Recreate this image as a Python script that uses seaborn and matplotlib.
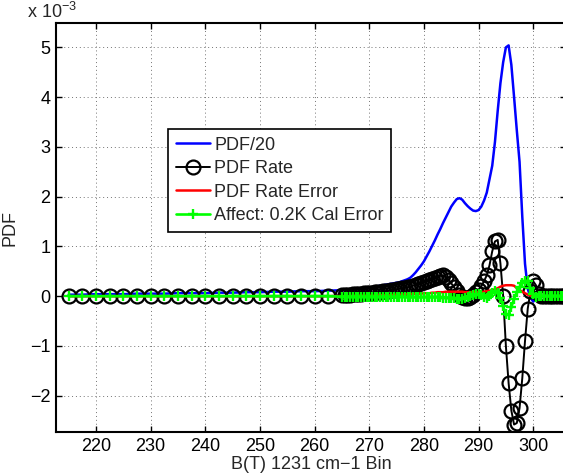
import numpy as np
import pandas as pd
import matplotlib
matplotlib.use("Agg")
import matplotlib.pyplot as plt
import seaborn as sns

# ---------------- data (values in units of 1e-3) ----------------
x_coarse = list(np.arange(215.0, 265.0, 2.5))          # 215 ... 262.5
x_fine = list(np.arange(265.0, 306.01, 0.5))           # 265 ... 306

pdf20_coarse = [0.03, 0.03, 0.04, 0.04, 0.04, 0.05, 0.05, 0.05, 0.06, 0.06,
                0.06, 0.07, 0.07, 0.08, 0.08, 0.09, 0.09, 0.10, 0.10, 0.11]
rate_coarse = [0.0] * 20
err_coarse = [0.0] * 20
cal_coarse = [0.0] * 20

pdf20_fine = [
    0.12, 0.12, 0.13, 0.13, 0.14, 0.14, 0.15, 0.15, 0.16, 0.16,   # 265-269.5
    0.17, 0.18, 0.19, 0.20, 0.21, 0.22, 0.23, 0.24, 0.25, 0.26,   # 270-274.5
    0.27, 0.28, 0.30, 0.32, 0.34, 0.37, 0.42, 0.48, 0.55, 0.62,   # 275-279.5
    0.70, 0.80, 0.90, 1.01, 1.12, 1.24, 1.35, 1.47, 1.58, 1.69,   # 280-284.5
    1.80, 1.88, 1.95, 1.97, 1.94, 1.87, 1.81, 1.76, 1.72, 1.71,   # 285-289.5
    1.73, 1.80, 1.92, 2.08, 2.35, 2.62, 3.10, 3.72, 4.28, 4.70,   # 290-294.5
    5.00, 5.04, 4.65, 4.00, 3.33, 2.70, 1.60, 0.65, 0.15, -0.03,  # 295-299.5
    -0.11, -0.06, -0.01, 0.0, 0.0, 0.0, 0.0, 0.0, 0.0, 0.0,       # 300-304.5
    0.0, 0.0, 0.0]                                                # 305-306

rate_fine = [
    0.02, 0.02, 0.03, 0.03, 0.04, 0.04, 0.05, 0.05, 0.06, 0.06,
    0.07, 0.07, 0.08, 0.08, 0.09, 0.10, 0.10, 0.11, 0.12, 0.13,
    0.14, 0.15, 0.16, 0.17, 0.18, 0.19, 0.21, 0.23, 0.25, 0.27,
    0.29, 0.31, 0.33, 0.35, 0.37, 0.39, 0.41, 0.42, 0.39, 0.33,
    0.26, 0.18, 0.10, 0.03, -0.02, -0.04, -0.04, -0.01, 0.03, 0.08,
    0.13, 0.20, 0.30, 0.42, 0.62, 0.90, 1.10, 1.13, 0.66, 0.00,
    -1.00, -1.75, -2.30, -2.58, -2.55, -2.25, -1.65, -0.90, -0.25, 0.10,
    0.30, 0.22, 0.05, 0.0, 0.0, 0.0, 0.0, 0.0, 0.0, 0.0,
    0.0, 0.0, 0.0]

err_fine = [
    0.00, 0.00, 0.00, 0.00, 0.01, 0.01, 0.01, 0.01, 0.01, 0.01,
    0.01, 0.01, 0.01, 0.02, 0.02, 0.02, 0.02, 0.02, 0.02, 0.03,
    0.03, 0.03, 0.03, 0.04, 0.04, 0.04, 0.05, 0.05, 0.05, 0.05,
    0.06, 0.06, 0.06, 0.07, 0.07, 0.08, 0.08, 0.08, 0.09, 0.09,
    0.09, 0.09, 0.09, 0.09, 0.09, 0.08, 0.08, 0.08, 0.08, 0.08,
    0.08, 0.08, 0.09, 0.10, 0.11, 0.12, 0.14, 0.16, 0.19, 0.21,
    0.22, 0.22, 0.22, 0.21, 0.16, 0.12, 0.09, 0.06, 0.03, 0.01,
    0.0, 0.0, 0.0, 0.0, 0.0, 0.0, 0.0, 0.0, 0.0, 0.0,
    0.0, 0.0, 0.0]

cal_fine = [
    -0.01, -0.01, -0.01, -0.01, -0.01, -0.01, -0.01, -0.01, -0.01, -0.01,
    -0.01, -0.01, -0.01, -0.01, -0.01, -0.01, -0.01, -0.01, -0.01, -0.01,
    -0.01, -0.01, -0.01, -0.01, -0.02, -0.02, -0.02, -0.02, -0.02, -0.02,
    -0.02, -0.02, -0.02, -0.02, -0.02, -0.02, -0.02, -0.03, -0.03, -0.03,
    -0.03, -0.04, -0.05, -0.05, -0.05, -0.04, -0.02, 0.01, 0.03, 0.04,
    0.04, 0.02, -0.02, -0.04, 0.00, 0.06, 0.10, 0.06, -0.04, -0.20,
    -0.36, -0.38, -0.22, -0.05, 0.08, 0.18, 0.27, 0.31, 0.30, 0.16,
    0.05, -0.02, 0.00, 0.0, 0.0, 0.0, 0.0, 0.0, 0.0, 0.0,
    0.0, 0.0, 0.0]

labels = ["PDF/20", "PDF Rate", "PDF Rate Error", "Affect: 0.2K Cal Error"]
x_ticks = [220, 230, 240, 250, 260, 270, 280, 290, 300]
y_ticks = [-2, -1, 0, 1, 2, 3, 4, 5]
SCALE = 1e-3

x_all = np.array(x_coarse + x_fine)
df = pd.DataFrame({
    "x": x_all,
    "pdf20": np.array(pdf20_coarse + pdf20_fine) * SCALE,
    "rate": np.array(rate_coarse + rate_fine) * SCALE,
    "err": np.array(err_coarse + err_fine) * SCALE,
    "cal": np.array(cal_coarse + cal_fine) * SCALE,
})

# ---------------- style ----------------
sns.set_theme(style="white")
plt.rcParams["font.family"] = ["Liberation Sans", "DejaVu Sans"]
plt.rcParams["axes.unicode_minus"] = True
plt.rcParams["mathtext.fontset"] = "custom"
plt.rcParams["mathtext.rm"] = "Liberation Sans"

FS = 13
W, H = 563, 475
fig = plt.figure(figsize=(W / 100, H / 100), dpi=100, facecolor="white")
ax = fig.add_axes([56 / W, 1 - 432 / H, (566 - 56) / W, (432 - 23) / H])
ax.set_facecolor("white")

sns.lineplot(data=df, x="x", y="pdf20", ax=ax, color=(0, 0, 1), lw=1.8,
             label=labels[0], sort=False, estimator=None)
sns.lineplot(data=df, x="x", y="rate", ax=ax, color="black", lw=1.4,
             marker="o", markersize=10, markerfacecolor="none",
             markeredgecolor="black", markeredgewidth=1.6,
             label=labels[1], sort=False, estimator=None)
sns.lineplot(data=df, x="x", y="err", ax=ax, color=(1, 0, 0), lw=1.8,
             label=labels[2], sort=False, estimator=None)
sns.lineplot(data=df, x="x", y="cal", ax=ax, color=(0, 1, 0), lw=1.9,
             marker="+", markersize=7, markeredgewidth=1.7,
             markeredgecolor=(0, 1, 0),
             label=labels[3], sort=False, estimator=None)

ax.set_xlim(212.68, 306.0)
ax.set_ylim(-2.73 * SCALE, 5.49 * SCALE)
ax.set_xticks(x_ticks)
ax.set_xticklabels([str(v) for v in x_ticks], fontsize=FS)
ax.set_yticks([v * SCALE for v in y_ticks])
ax.set_yticklabels([str(v).replace("-", "\u2212") for v in y_ticks], fontsize=FS)

ax.set_xlabel("B(T) 1231 cm\u22121 Bin", fontsize=FS, labelpad=1)
ax.set_ylabel("PDF", fontsize=FS, labelpad=8)

ax.grid(True, color="0.45", linestyle=(0, (1, 3)), linewidth=0.7)
ax.tick_params(direction="in", length=4, width=1, top=True, right=True,
               bottom=True, left=True, colors="black", labelsize=FS, pad=4)
for s in ax.spines.values():
    s.set_color("black")
    s.set_linewidth(1.5)

fig.text(27 / W, 1 - 18 / H, "x 10$^{\u22123}$", fontsize=FS, ha="left",
         va="baseline")

leg = ax.legend(loc="upper left", bbox_to_anchor=(168 / W, 1 - 129 / H),
                bbox_transform=fig.transFigure, borderaxespad=0,
                fontsize=FS, frameon=True, fancybox=False, framealpha=1,
                edgecolor="black", handlelength=1.9, handletextpad=0.25,
                labelspacing=0.36, borderpad=0.42)
leg.get_frame().set_linewidth(1.2)

fig.savefig("out.png", dpi=100, facecolor="white")
